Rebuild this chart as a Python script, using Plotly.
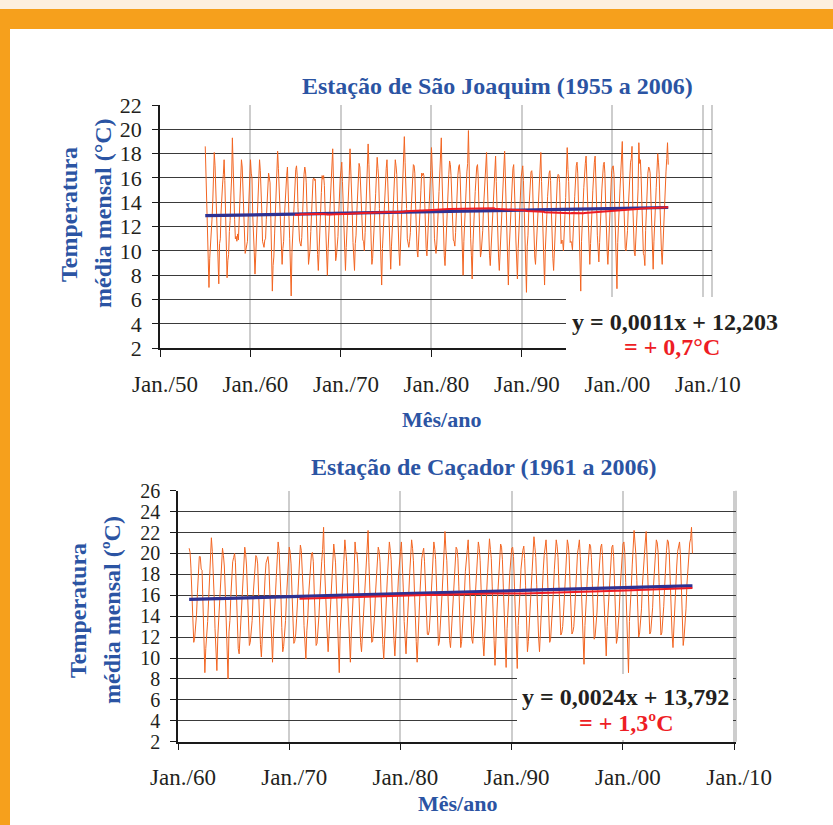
import pandas as pd
import plotly.graph_objects as go

# ---------------------------------------------------------------------------
# Monthly mean temperature (°C) - São Joaquim, Jan 1955 to Mar 2006 (one line per year)
sao_joaquim_temp = [
    18.6, 16.2, 15.9, 12.8, 10.9, 7.0, 9.4, 10.3, 11.5, 12.6, 14.1, 16.3,      # 1955
    18.1, 17.0, 15.2, 13.5, 10.2, 9.6, 7.3, 10.6, 11.0, 13.2, 14.8, 15.5,      # 1956
    16.3, 17.5, 15.8, 12.7, 11.1, 7.8, 9.2, 9.7, 11.6, 12.5, 14.6, 16.0,       # 1957
    19.3, 16.4, 15.3, 12.6, 11.0, 11.2, 10.8, 11.4, 10.9, 12.4, 14.0, 15.4,    # 1958
    17.5, 16.9, 15.1, 13.0, 10.4, 9.8, 10.1, 10.6, 10.8, 12.7, 14.3, 15.7,     # 1959
    17.5, 16.4, 16.0, 12.9, 10.5, 9.9, 8.1, 9.6, 11.3, 13.1, 14.0, 16.1,       # 1960
    17.5, 16.6, 15.4, 13.3, 10.8, 10.6, 10.3, 10.9, 11.0, 12.6, 14.5, 15.2,    # 1961
    16.4, 16.0, 15.6, 12.7, 10.2, 6.7, 8.8, 9.5, 11.4, 12.9, 14.7, 16.2,       # 1962
    18.2, 16.8, 15.2, 13.4, 10.7, 9.3, 8.9, 10.2, 10.8, 12.8, 14.2, 15.6,      # 1963
    16.2, 16.9, 15.5, 12.9, 11.0, 9.1, 6.3, 9.9, 11.2, 13.0, 14.6, 16.0,       # 1964
    16.7, 17.0, 16.2, 13.6, 11.2, 10.9, 10.6, 10.4, 11.1, 13.0, 14.9, 16.3,    # 1965
    16.9, 16.5, 15.6, 13.2, 11.0, 8.9, 9.5, 10.1, 11.6, 13.4, 14.5, 15.9,      # 1966
    16.0, 15.8, 15.9, 13.5, 10.6, 9.7, 8.4, 10.5, 11.3, 13.1, 14.8, 16.2,      # 1967
    15.9, 16.2, 15.4, 13.3, 11.1, 9.4, 8.0, 10.2, 11.5, 13.3, 14.6, 16.4,      # 1968
    16.5, 18.4, 16.0, 13.1, 10.8, 9.2, 9.6, 10.4, 11.2, 13.0, 14.9, 16.0,      # 1969
    16.6, 17.3, 15.7, 13.6, 11.0, 9.8, 8.4, 10.3, 11.6, 13.4, 14.4, 16.2,      # 1970
    18.4, 16.8, 16.1, 13.2, 10.7, 9.5, 8.4, 10.6, 11.3, 13.1, 14.8, 15.9,      # 1971
    17.2, 16.9, 15.5, 13.4, 11.2, 10.9, 10.8, 10.0, 11.5, 13.0, 14.6, 16.0,    # 1972
    18.8, 17.1, 15.8, 13.3, 10.9, 8.9, 9.4, 10.5, 11.2, 13.3, 14.7, 16.2,      # 1973
    17.7, 16.8, 16.0, 13.5, 11.0, 9.6, 7.2, 10.2, 11.6, 13.2, 14.9, 16.1,      # 1974
    16.8, 17.5, 15.7, 13.4, 10.8, 9.4, 8.5, 10.4, 11.4, 13.0, 14.6, 16.3,      # 1975
    17.5, 17.0, 16.3, 13.8, 11.3, 9.9, 8.8, 10.7, 11.8, 13.6, 15.1, 16.5,      # 1976
    19.4, 17.3, 16.0, 13.5, 11.0, 10.5, 10.3, 10.8, 11.5, 13.3, 14.8, 16.2,    # 1977
    17.1, 17.0, 16.4, 13.7, 11.2, 10.0, 9.5, 10.6, 11.7, 13.5, 15.0, 16.4,     # 1978
    16.2, 16.4, 16.2, 13.9, 11.4, 10.2, 9.6, 10.9, 11.8, 13.7, 15.2, 16.6,     # 1979
    18.5, 17.1, 16.0, 13.5, 11.0, 10.1, 9.8, 10.5, 11.6, 13.4, 14.9, 16.4,     # 1980
    17.0, 19.3, 16.1, 13.6, 11.1, 9.6, 8.8, 10.6, 11.7, 13.5, 15.0, 16.3,      # 1981
    17.4, 17.1, 16.2, 13.7, 11.2, 10.9, 10.8, 10.4, 11.5, 13.3, 14.8, 16.2,    # 1982
    16.9, 17.1, 16.3, 13.8, 11.3, 9.8, 8.0, 10.8, 11.9, 13.6, 15.1, 16.5,      # 1983
    17.2, 19.9, 16.0, 13.5, 11.0, 9.6, 7.7, 10.5, 11.6, 13.4, 14.9, 16.2,      # 1984
    16.9, 17.1, 16.1, 13.6, 11.1, 9.5, 9.9, 10.6, 11.7, 13.5, 14.9, 16.3,      # 1985
    16.6, 18.1, 15.9, 13.4, 10.9, 9.6, 8.8, 10.3, 11.4, 13.2, 14.7, 16.1,      # 1986
    16.7, 17.8, 15.7, 13.2, 10.7, 9.5, 8.4, 10.1, 11.2, 13.0, 14.5, 15.9,      # 1987
    16.9, 18.2, 15.8, 13.4, 10.6, 9.2, 7.2, 10.0, 11.3, 13.2, 14.7, 16.0,      # 1988
    16.8, 17.1, 15.9, 13.3, 10.9, 9.4, 7.7, 10.2, 11.4, 13.1, 14.6, 16.1,      # 1989
    16.7, 17.0, 15.8, 13.5, 10.8, 9.3, 6.6, 10.4, 11.3, 13.2, 14.8, 16.0,      # 1990
    16.5, 16.6, 15.9, 13.4, 10.9, 9.5, 8.9, 10.3, 11.4, 13.1, 14.6, 16.2,      # 1991
    16.8, 18.1, 15.7, 13.2, 10.7, 9.3, 7.2, 10.1, 11.2, 13.0, 14.5, 15.9,      # 1992
    16.4, 16.6, 15.8, 13.3, 10.8, 9.4, 8.4, 10.2, 11.3, 13.1, 14.6, 16.0,      # 1993
    16.3, 16.2, 15.6, 13.1, 10.6, 10.9, 10.8, 10.0, 11.1, 12.9, 14.4, 15.8,    # 1994
    18.5, 16.7, 15.7, 13.2, 10.7, 10.8, 10.6, 10.1, 11.2, 13.0, 14.5, 15.9,    # 1995
    17.0, 17.3, 16.4, 13.9, 11.4, 10.0, 6.7, 10.8, 11.9, 13.7, 15.2, 16.6,     # 1996
    17.2, 17.8, 16.2, 13.7, 11.2, 9.8, 8.9, 10.6, 11.7, 13.5, 15.0, 16.4,      # 1997
    17.3, 17.8, 16.3, 13.8, 11.3, 9.9, 9.1, 10.7, 11.8, 13.6, 15.1, 16.5,      # 1998
    17.1, 17.3, 16.4, 13.9, 11.4, 10.0, 8.9, 10.8, 11.9, 13.7, 15.2, 16.6,     # 1999
    16.9, 17.0, 16.3, 13.8, 11.3, 9.9, 6.9, 10.7, 11.8, 13.6, 15.1, 16.5,      # 2000
    17.4, 19.0, 16.2, 13.7, 11.2, 10.2, 10.0, 10.6, 11.7, 13.5, 15.0, 16.4,    # 2001
    17.3, 17.6, 18.6, 13.8, 11.3, 9.9, 9.6, 10.7, 11.8, 13.6, 15.1, 18.9,      # 2002
    17.2, 17.5, 16.2, 13.7, 11.2, 9.8, 9.6, 8.8, 11.7, 13.5, 15.0, 16.4,       # 2003
    16.9, 16.8, 16.4, 13.9, 11.4, 10.0, 8.5, 10.8, 11.9, 13.7, 15.2, 16.6,     # 2004
    18.0, 17.3, 16.3, 13.8, 11.3, 9.9, 8.9, 10.7, 11.8, 13.6, 15.1, 16.5,      # 2005
    17.6, 18.9, 17.1,                                                          # 2006
]
sao_joaquim_first_month = "1955-01-01"
sao_joaquim_trend_slope = 0.0011       # °C per month
sao_joaquim_trend_intercept = 12.203
sao_joaquim_trend_first = 12.9         # trend value in the first month
sao_joaquim_rise = "= + 0,7°C"

# Monthly mean temperature (°C) - Caçador, Jan 1961 to Apr 2006 (one line per year)
cacador_temp = [
    20.5, 20.1, 18.6, 16.0, 12.3, 11.5, 11.9, 12.8, 14.2, 16.3, 18.0, 19.7,    # 1961
    19.7, 18.5, 18.4, 15.8, 12.6, 8.6, 10.9, 12.0, 13.5, 15.5, 17.6, 19.3,     # 1962
    21.5, 20.2, 18.7, 16.0, 12.8, 11.0, 8.8, 12.1, 13.9, 16.0, 17.5, 19.0,     # 1963
    20.5, 19.8, 18.8, 16.4, 13.1, 11.4, 8.0, 12.5, 13.6, 15.9, 17.9, 19.2,     # 1964
    19.6, 20.0, 19.1, 16.1, 12.9, 10.9, 10.4, 12.2, 13.8, 15.7, 17.8, 19.0,    # 1965
    20.6, 19.9, 18.8, 16.3, 13.1, 11.2, 11.5, 12.4, 13.6, 15.9, 17.6, 19.2,    # 1966
    19.8, 19.6, 19.0, 16.2, 12.8, 11.3, 10.1, 12.3, 13.8, 15.8, 17.8, 19.1,    # 1967
    19.5, 19.7, 18.9, 16.4, 13.0, 11.0, 9.6, 12.4, 13.7, 15.9, 17.7, 19.2,     # 1968
    21.1, 20.3, 18.8, 16.1, 12.9, 10.6, 11.1, 12.2, 13.6, 15.7, 17.6, 19.0,    # 1969
    20.6, 20.1, 19.0, 16.3, 13.1, 11.4, 11.6, 12.3, 13.8, 15.8, 17.7, 19.1,    # 1970
    20.8, 20.3, 19.0, 16.5, 13.1, 11.5, 9.9, 12.6, 13.8, 16.1, 17.8, 19.4,     # 1971
    20.0, 20.1, 19.2, 16.3, 13.3, 11.2, 11.4, 12.4, 14.0, 15.9, 18.0, 19.2,    # 1972
    20.4, 22.5, 19.0, 16.4, 13.2, 12.3, 10.6, 12.5, 13.9, 16.0, 17.9, 19.3,    # 1973
    20.9, 20.0, 19.1, 16.5, 13.0, 11.3, 8.6, 12.6, 14.0, 16.1, 17.8, 19.4,     # 1974
    21.3, 20.2, 19.2, 16.3, 13.3, 11.4, 9.6, 12.4, 13.8, 15.9, 18.0, 21.1,     # 1975
    20.0, 20.1, 19.0, 16.4, 13.1, 11.5, 10.6, 12.5, 13.9, 16.0, 17.9, 19.3,    # 1976
    20.6, 22.2, 19.1, 16.5, 13.2, 11.5, 11.6, 12.6, 14.0, 16.1, 17.8, 19.2,    # 1977
    20.6, 20.2, 19.2, 16.4, 13.3, 11.3, 9.9, 12.5, 13.9, 16.0, 17.9, 19.4,     # 1978
    21.1, 20.3, 19.4, 16.5, 13.3, 11.7, 10.2, 12.8, 14.2, 16.1, 18.0, 19.6,    # 1979
    20.2, 21.1, 19.2, 16.7, 13.5, 11.5, 10.4, 12.6, 14.0, 16.3, 18.2, 19.4,    # 1980
    21.3, 20.5, 19.3, 16.6, 13.4, 11.6, 9.6, 12.7, 14.1, 16.2, 18.1, 19.5,     # 1981
    20.1, 20.5, 19.2, 16.5, 13.3, 12.3, 12.2, 12.6, 14.0, 16.1, 18.0, 19.4,    # 1982
    21.1, 20.4, 19.4, 16.7, 13.5, 11.2, 11.5, 12.8, 14.2, 16.3, 18.2, 19.6,    # 1983
    22.1, 20.3, 19.3, 16.6, 13.4, 11.7, 11.0, 12.7, 14.1, 16.2, 18.1, 19.5,    # 1984
    20.6, 20.4, 19.5, 16.8, 13.4, 11.0, 11.6, 12.9, 14.3, 16.2, 18.3, 19.7,    # 1985
    20.3, 21.3, 19.4, 16.6, 13.6, 11.8, 11.4, 12.7, 14.1, 16.4, 18.1, 19.5,    # 1986
    21.1, 20.5, 19.3, 16.7, 13.5, 11.6, 10.2, 12.8, 14.2, 16.3, 18.2, 19.6,    # 1987
    21.4, 20.4, 19.5, 16.8, 13.4, 11.7, 9.3, 12.9, 14.3, 16.2, 18.3, 19.7,     # 1988
    20.9, 20.6, 19.4, 16.7, 13.5, 11.8, 9.1, 12.8, 14.2, 16.3, 18.2, 19.6,     # 1989
    20.5, 20.6, 19.7, 16.8, 13.6, 11.8, 9.0, 13.1, 14.5, 16.4, 18.5, 19.9,     # 1990
    20.3, 20.7, 19.5, 16.9, 13.7, 10.6, 11.6, 13.0, 14.3, 16.6, 18.3, 19.7,    # 1991
    21.6, 20.6, 19.6, 17.0, 13.8, 12.0, 10.6, 12.9, 14.4, 16.5, 18.4, 19.8,    # 1992
    20.5, 21.3, 19.7, 16.8, 13.6, 11.5, 11.8, 13.1, 14.5, 16.4, 18.5, 19.9,    # 1993
    21.3, 20.7, 19.6, 16.9, 13.7, 12.2, 12.4, 13.0, 14.4, 16.5, 18.4, 19.8,    # 1994
    21.3, 20.8, 19.8, 16.9, 13.9, 12.3, 12.5, 13.0, 14.6, 16.5, 18.6, 20.0,    # 1995
    20.6, 21.3, 19.7, 17.0, 13.8, 11.9, 9.4, 13.1, 14.5, 16.6, 18.5, 19.9,     # 1996
    20.9, 20.7, 19.6, 17.1, 13.7, 11.8, 12.1, 13.2, 14.4, 16.7, 18.4, 19.8,    # 1997
    20.6, 20.9, 19.8, 16.9, 13.9, 12.1, 10.2, 13.0, 14.6, 16.5, 18.6, 20.0,    # 1998
    20.6, 20.8, 19.7, 17.0, 13.8, 11.4, 11.9, 13.1, 14.5, 16.6, 18.5, 19.9,    # 1999
    20.9, 21.1, 20.1, 17.2, 14.0, 12.2, 8.6, 13.5, 14.9, 16.8, 18.9, 20.3,     # 2000
    22.2, 21.0, 19.9, 17.4, 14.2, 12.0, 12.4, 13.3, 14.7, 17.0, 18.7, 20.1,    # 2001
    21.0, 22.1, 20.0, 17.3, 14.1, 12.3, 12.5, 13.4, 14.8, 16.9, 18.8, 20.2,    # 2002
    21.3, 21.0, 20.1, 17.2, 14.0, 12.2, 12.4, 13.5, 14.9, 16.8, 18.9, 20.3,    # 2003
    21.3, 21.1, 20.0, 17.3, 14.1, 12.3, 11.0, 13.4, 14.8, 16.9, 18.8, 20.2,    # 2004
    20.9, 21.1, 19.9, 17.4, 14.2, 11.2, 12.0, 13.3, 14.7, 17.0, 18.7, 20.1,    # 2005
    21.0, 21.4, 22.5, 20.0,                                                    # 2006
]
cacador_first_month = "1961-01-01"
cacador_trend_slope = 0.0024
cacador_trend_intercept = 13.792
cacador_trend_first = 15.6
cacador_rise = "= + 1,3ºC"

moving_average_months = 120

top_tick_dates = ["1950-01-01", "1960-01-01", "1970-01-01", "1980-01-01",
                  "1990-01-01", "2000-01-01", "2010-01-01"]
top_tick_labels = ["Jan./50", "Jan./60", "Jan./70", "Jan./80", "Jan./90", "Jan./00", "Jan./10"]
bottom_tick_dates = ["1960-01-01", "1970-01-01", "1980-01-01", "1990-01-01",
                     "2000-01-01", "2010-01-01"]
bottom_tick_labels = ["Jan./60", "Jan./70", "Jan./80", "Jan./90", "Jan./00", "Jan./10"]

# ---------------------------------------------------------------------------
W, H = 833, 825
FONT = "Liberation Serif"
BLUE_TXT = "#2B54A3"
ORANGE = "#F26522"
TREND_BLUE = "#2E3192"
MA_RED = "#ED1C24"
EQ_RED = "#EE1D25"


def px(x):
    return x / W


def py(y):
    return 1 - y / H


def station_series(values, first_month, slope, first_value):
    s = pd.Series(values, index=pd.date_range(first_month, periods=len(values), freq="MS"))
    trend = pd.Series([first_value + slope * i for i in range(len(s))], index=s.index)
    ma = s.rolling(moving_average_months).mean().dropna()
    return s, trend, ma


sj, sj_trend, sj_ma = station_series(sao_joaquim_temp, sao_joaquim_first_month,
                                     sao_joaquim_trend_slope, sao_joaquim_trend_first)
cc, cc_trend, cc_ma = station_series(cacador_temp, cacador_first_month,
                                     cacador_trend_slope, cacador_trend_first)

fig = go.Figure()
for s, trend, ma, xa, ya in [(sj, sj_trend, sj_ma, "x", "y"), (cc, cc_trend, cc_ma, "x2", "y2")]:
    fig.add_trace(go.Scatter(x=s.index, y=s.values, mode="lines",
                             line=dict(color=ORANGE, width=1), xaxis=xa, yaxis=ya))
    fig.add_trace(go.Scatter(x=trend.index, y=trend.values, mode="lines",
                             line=dict(color=TREND_BLUE, width=3.2), xaxis=xa, yaxis=ya))
    fig.add_trace(go.Scatter(x=ma.index, y=ma.values, mode="lines",
                             line=dict(color=MA_RED, width=2), xaxis=xa, yaxis=ya))


def x_axis(domain, anchor, rng, vals, labels):
    return dict(domain=domain, anchor=anchor, type="date", range=rng, automargin=False,
                tickvals=vals, ticktext=labels,
                tickfont=dict(family=FONT, size=23, color="#231F20"),
                showgrid=True, gridcolor="#CDCDCD", gridwidth=1.5,
                showline=True, linecolor="#1A1A1A", linewidth=1.5,
                ticks="outside", ticklen=7, tickcolor="#1A1A1A", tickwidth=1.2,
                ticklabelstandoff=7, ticklabelshift=5, zeroline=False, fixedrange=True)


def y_axis(domain, anchor, top, size):
    return dict(domain=domain, anchor=anchor, range=[2, top], automargin=False,
                tickvals=list(range(2, top + 1, 2)),
                tickfont=dict(family=FONT, size=size, color="#231F20"),
                showgrid=True, gridcolor="#3A3A3A", gridwidth=1.2,
                showline=True, linecolor="#1A1A1A", linewidth=1.5,
                ticks="outside", ticklen=6, tickcolor="#1A1A1A", tickwidth=1.2,
                ticklabelstandoff=6, zeroline=False, fixedrange=True)


fig.update_layout(
    width=W, height=H,
    margin=dict(l=0, r=0, t=0, b=0, autoexpand=False),
    paper_bgcolor="white", plot_bgcolor="rgba(0,0,0,0)",
    showlegend=False,
    xaxis=x_axis([px(160), px(712)], "y", ["1950-01-01", "2011-01-01"],
                 top_tick_dates, top_tick_labels),
    yaxis=y_axis([py(348.3), py(105)], "x", 22, 22),
    xaxis2=x_axis([px(178), px(736)], "y2", ["1960-01-01", "2010-03-01"],
                  bottom_tick_dates, bottom_tick_labels),
    yaxis2=y_axis([py(741.7), py(490.7)], "x2", 26, 20),
)

shapes = [
    # page frame
    dict(type="rect", xref="paper", yref="paper", x0=0, x1=1, y0=py(9), y1=1,
         fillcolor="#FDF0DF", line_width=0, layer="below"),
    dict(type="rect", xref="paper", yref="paper", x0=0, x1=1, y0=py(29), y1=py(9),
         fillcolor="#F6A01C", line_width=0, layer="below"),
    dict(type="rect", xref="paper", yref="paper", x0=0, x1=px(10), y0=0, y1=py(29),
         fillcolor="#F6A01C", line_width=0, layer="below"),
    # right-hand plot borders
    dict(type="line", xref="x domain", yref="y domain", x0=1, x1=1, y0=0, y1=1,
         line=dict(color="#BDBDBD", width=1.5), layer="below"),
    dict(type="line", xref="x2 domain", yref="y2 domain", x0=1, x1=1, y0=0, y1=1,
         line=dict(color="#BDBDBD", width=1.5), layer="below"),
    # white boxes behind the trend equations
    dict(type="rect", xref="paper", yref="paper", x0=px(566), x1=px(800),
         y0=py(362), y1=py(297), fillcolor="white", line_width=0, layer="above"),
    dict(type="rect", xref="paper", yref="paper", x0=px(517), x1=px(733),
         y0=py(740), y1=py(674), fillcolor="white", line_width=0, layer="above"),
]


def note(text, x, y, size, color, bold=False, angle=0, xanchor="center"):
    return dict(text=f"<b>{text}</b>" if bold else text, xref="paper", yref="paper",
                x=px(x), y=py(y), xanchor=xanchor, yanchor="middle", showarrow=False,
                textangle=angle, font=dict(family=FONT, size=size, color=color))


def fmt(v):
    return f"{v}".replace(".", ",")


annotations = [
    note("Estação de São Joaquim (1955 a 2006)", 497, 86, 24, BLUE_TXT, True),
    note("Temperatura", 69, 215, 24, BLUE_TXT, True, -90),
    note("média mensal (°C)", 103, 213, 24, BLUE_TXT, True, -90),
    note("Mês/ano", 441, 419, 22, BLUE_TXT, True),
    note(f"y = {fmt(sao_joaquim_trend_slope)}x + {fmt(sao_joaquim_trend_intercept)}",
         570, 322, 24, "#231F20", True, xanchor="left"),
    note(sao_joaquim_rise, 672, 347, 24, EQ_RED, True),

    note("Estação de Caçador (1961 a 2006)", 484, 467, 24, BLUE_TXT, True),
    note("Temperatura", 78, 611, 24, BLUE_TXT, True, -90),
    note("média mensal (ºC)", 112, 610, 24, BLUE_TXT, True, -90),
    note("Mês/ano", 457, 803, 22, BLUE_TXT, True),
    note(f"y = {fmt(cacador_trend_slope)}x + {fmt(cacador_trend_intercept)}",
         520, 697, 24, "#231F20", True, xanchor="left"),
    note(cacador_rise, 626, 723, 24, EQ_RED, True),
]

fig.update_layout(shapes=shapes, annotations=annotations)
fig.write_html("out.html")
